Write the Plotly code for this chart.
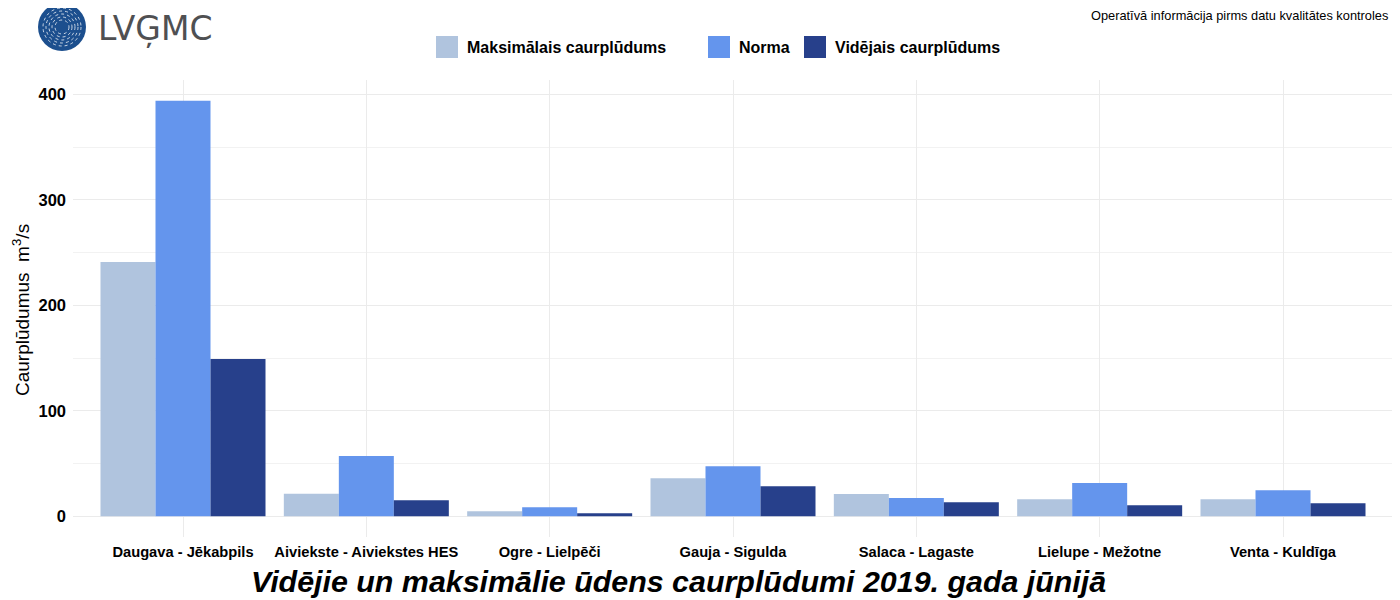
import plotly.graph_objects as go

stations = [
    "Daugava - Jēkabpils",
    "Aiviekste - Aiviekstes HES",
    "Ogre - Lielpēči",
    "Gauja - Sigulda",
    "Salaca - Lagaste",
    "Lielupe - Mežotne",
    "Venta - Kuldīga",
]
max_flow = [241, 21.2, 4.8, 36, 21, 16.1, 16.1]
norm_flow = [394, 57, 8.6, 47.5, 17.2, 31.4, 24.7]
mean_flow = [149, 15.2, 2.9, 28.5, 13.3, 10.5, 12.4]

series_names = ["Maksimālais caurplūdums", "Norma", "Vidējais caurplūdums"]
series_colors = ["#B0C4DE", "#6495ED", "#27408B"]

FONT = "Liberation Sans, Arial, sans-serif"
OFF = 8  # page body margin
W, H = 1400 - OFF, 600 - OFF
# plot panel in page pixels
PX0, PX1, PY0, PY1 = 73, 1393, 80, 537
L, R, T, B = PX0 - OFF, W - (PX1 - OFF), PY0 - OFF, H - (PY1 - OFF)
PW, PH = PX1 - PX0, PY1 - PY0


def px(x):
    return (x - PX0) / PW


def py(y):
    return (PY1 - y) / PH


fig = go.Figure()
for name, vals, color in zip(series_names, [max_flow, norm_flow, mean_flow], series_colors):
    fig.add_trace(go.Bar(
        x=stations, y=vals, name=name,
        marker=dict(color=color, line=dict(width=0)),
        showlegend=False,
    ))

shapes = []
annotations = []

# legend with big square keys
legend_x = [436, 708, 804]
for name, color, lx in zip(series_names, series_colors, legend_x):
    shapes.append(dict(type="rect", xref="paper", yref="paper",
                       x0=px(lx), x1=px(lx + 22), y0=py(58), y1=py(36),
                       fillcolor=color, line=dict(width=0)))
    annotations.append(dict(xref="paper", yref="paper", x=px(lx + 29), y=py(47.5),
                            xanchor="left", yanchor="middle", showarrow=False,
                            text=name,
                            font=dict(family=FONT, size=16, weight="bold", color="#000")))

# logo
cx, cy, r = 62, 27, 24
shapes.append(dict(type="circle", xref="paper", yref="paper",
                   x0=px(cx - r), x1=px(cx + r), y0=py(cy + r), y1=py(cy - r),
                   fillcolor="#1C4F8E", line=dict(width=0)))
for rr in [7, 10, 13, 16, 19]:
    shapes.append(dict(type="circle", xref="paper", yref="paper",
                       x0=px(cx - rr), x1=px(cx + rr), y0=py(cy + rr), y1=py(cy - rr),
                       line=dict(color="rgba(255,255,255,0.75)", width=1, dash="dot")))
annotations.append(dict(xref="paper", yref="paper", x=px(96), y=py(29),
                        xanchor="left", yanchor="middle", showarrow=False,
                        text="LVĢMC",
                        font=dict(family="DejaVu Sans, sans-serif", size=33, color="#4F5052")))

annotations.append(dict(xref="paper", yref="paper", x=px(1390), y=py(15.5),
                        xanchor="right", yanchor="middle", showarrow=False,
                        text="Operatīvā informācija pirms datu kvalitātes kontroles",
                        font=dict(family=FONT, size=12.8, color="#000")))

annotations.append(dict(xref="paper", yref="paper", x=px(678), y=py(580.5),
                        xanchor="center", yanchor="middle", showarrow=False,
                        text="<i>Vidējie un maksimālie ūdens caurplūdumi 2019. gada jūnijā</i>",
                        font=dict(family=FONT, size=30.4, weight="bold", color="#000")))

annotations.append(dict(xref="paper", yref="paper", x=px(21), y=py(310),
                        xanchor="center", yanchor="middle", showarrow=False, textangle=-90,
                        text="Caurplūdumus  m<sup>3</sup>/s",
                        font=dict(family=FONT, size=19, color="#000")))

fig.update_layout(
    width=W, height=H,
    barmode="group", bargap=0.1, bargroupgap=0,
    plot_bgcolor="white", paper_bgcolor="white",
    margin=dict(l=L, r=R, t=T, b=B),
    font=dict(family=FONT, color="#000"),
    shapes=shapes, annotations=annotations,
    showlegend=False,
)
fig.update_xaxes(
    range=[-0.6, len(stations) - 0.4],
    showgrid=True, gridcolor="#EBEBEB", gridwidth=1,
    tickfont=dict(family=FONT, size=14.7, weight="bold", color="#000"),
    ticklabelstandoff=4, showline=False, zeroline=False,
)
fig.update_yaxes(
    range=[-19.7, 413.7],
    tickvals=[0, 100, 200, 300, 400],
    showgrid=True, gridcolor="#EBEBEB", gridwidth=1,
    minor=dict(dtick=50, showgrid=True, gridcolor="#F2F2F2", gridwidth=1),
    zeroline=False, showline=False,
    tickfont=dict(family=FONT, size=16.5, weight="bold", color="#000"),
    ticklabelstandoff=6,
)

fig.write_html("out.html")
